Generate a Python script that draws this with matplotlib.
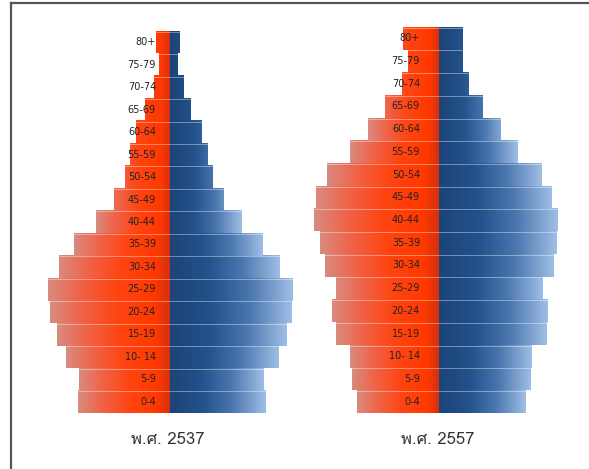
import numpy as np
import matplotlib
matplotlib.use("Agg")
import matplotlib.pyplot as plt
from matplotlib.colors import LinearSegmentedColormap
from matplotlib.lines import Line2D
from matplotlib import font_manager
from matplotlib.ft2font import FT2Font

age_groups = ["0-4", "5-9", "10- 14", "15-19", "20-24", "25-29", "30-34", "35-39",
              "40-44", "45-49", "50-54", "55-59", "60-64", "65-69", "70-74", "75-79", "80+"]

male_2537 = [92, 91, 104, 113, 120, 122, 111, 96, 74, 56, 45, 40, 34, 25, 16, 11, 14]
female_2537 = [96, 94, 109, 117, 122, 123, 110, 93, 72, 54, 43, 38, 32, 21, 14, 8, 10]

male_2557 = [82, 87, 89, 103, 107, 103, 114, 119, 125, 123, 112, 89, 71, 54, 37, 31, 36]
female_2557 = [87, 92, 93, 108, 109, 104, 115, 118, 119, 113, 103, 79, 62, 44, 30, 24, 24]

titles = ["พ.ศ. 2537", "พ.ศ. 2557"]


def thai_font():
    # look for any installed font that has Thai glyphs
    for f in font_manager.fontManager.ttflist:
        try:
            if ord("พ") in FT2Font(f.fname).get_charmap():
                return f.name
        except Exception:
            pass
    return "DejaVu Sans"


red_cmap = LinearSegmentedColormap.from_list(
    "red", [(0, "#d6300e"), (0.12, "#ff3800"), (0.45, "#ff4512"), (0.75, "#ef644a"), (1, "#d98a7e")])
blue_cmap = LinearSegmentedColormap.from_list(
    "blue", [(0, "#1c4478"), (0.35, "#24528c"), (0.65, "#4a76ae"), (1, "#9dbde5")])

W, H = 589, 469
fig = plt.figure(figsize=(W / 100, H / 100), dpi=100)
fig.patch.set_facecolor("white")

# pixel boxes: center x, top y, bottom y
panels = [
    (170, 31, 413, male_2537, female_2537),
    (439, 27, 413, male_2557, female_2557),
]
half = 130
min_span = 70  # short bars only get part of the gradient

title_font = thai_font()

for (cx, top, bottom, male, female), title in zip(panels, titles):
    ax = fig.add_axes([(cx - half) / W, (H - bottom) / H, 2 * half / W, (bottom - top) / H])

    for i, (m, f) in enumerate(zip(male, female)):
        y0, y1 = i - 0.5, i + 0.5
        # red (left) bar
        t = np.linspace(1, 0, 80) * m / max(m, min_span)
        ax.imshow(t[None, :], cmap=red_cmap, vmin=0, vmax=1, extent=(-m, 0, y0, y1),
                  aspect="auto", interpolation="bilinear")
        # blue (right) bar
        t = np.linspace(0, 1, 80) * f / max(f, min_span)
        ax.imshow(t[None, :], cmap=blue_cmap, vmin=0, vmax=1, extent=(0, f, y0, y1),
                  aspect="auto", interpolation="bilinear")
        # soft edges between rows
        ax.plot([-m, f], [y1 - 0.03, y1 - 0.03], color="white", lw=0.6, alpha=0.45)
        ax.text(-14 if cx < 300 else -19, i, age_groups[i], ha="right", va="center",
                fontsize=7, color="#222222")

    ax.set_xlim(-half, half)
    ax.set_ylim(-0.5, len(age_groups) - 0.5)
    ax.set_axis_off()

    fig.text(cx / W - 0.003, 1 - 440 / H, title, ha="center", va="center",
             fontsize=12, color="#333333", family=[title_font, "DejaVu Sans"])

# frame lines at left and top
fig.add_artist(Line2D([10.5 / W, 10.5 / W], [0, 1 - 3 / H], color="#555555", lw=1.6,
                      transform=fig.transFigure))
fig.add_artist(Line2D([10.5 / W, 1], [1 - 3 / H, 1 - 3 / H], color="#555555", lw=1.6,
                      transform=fig.transFigure))

fig.savefig("out.png", dpi=100)
